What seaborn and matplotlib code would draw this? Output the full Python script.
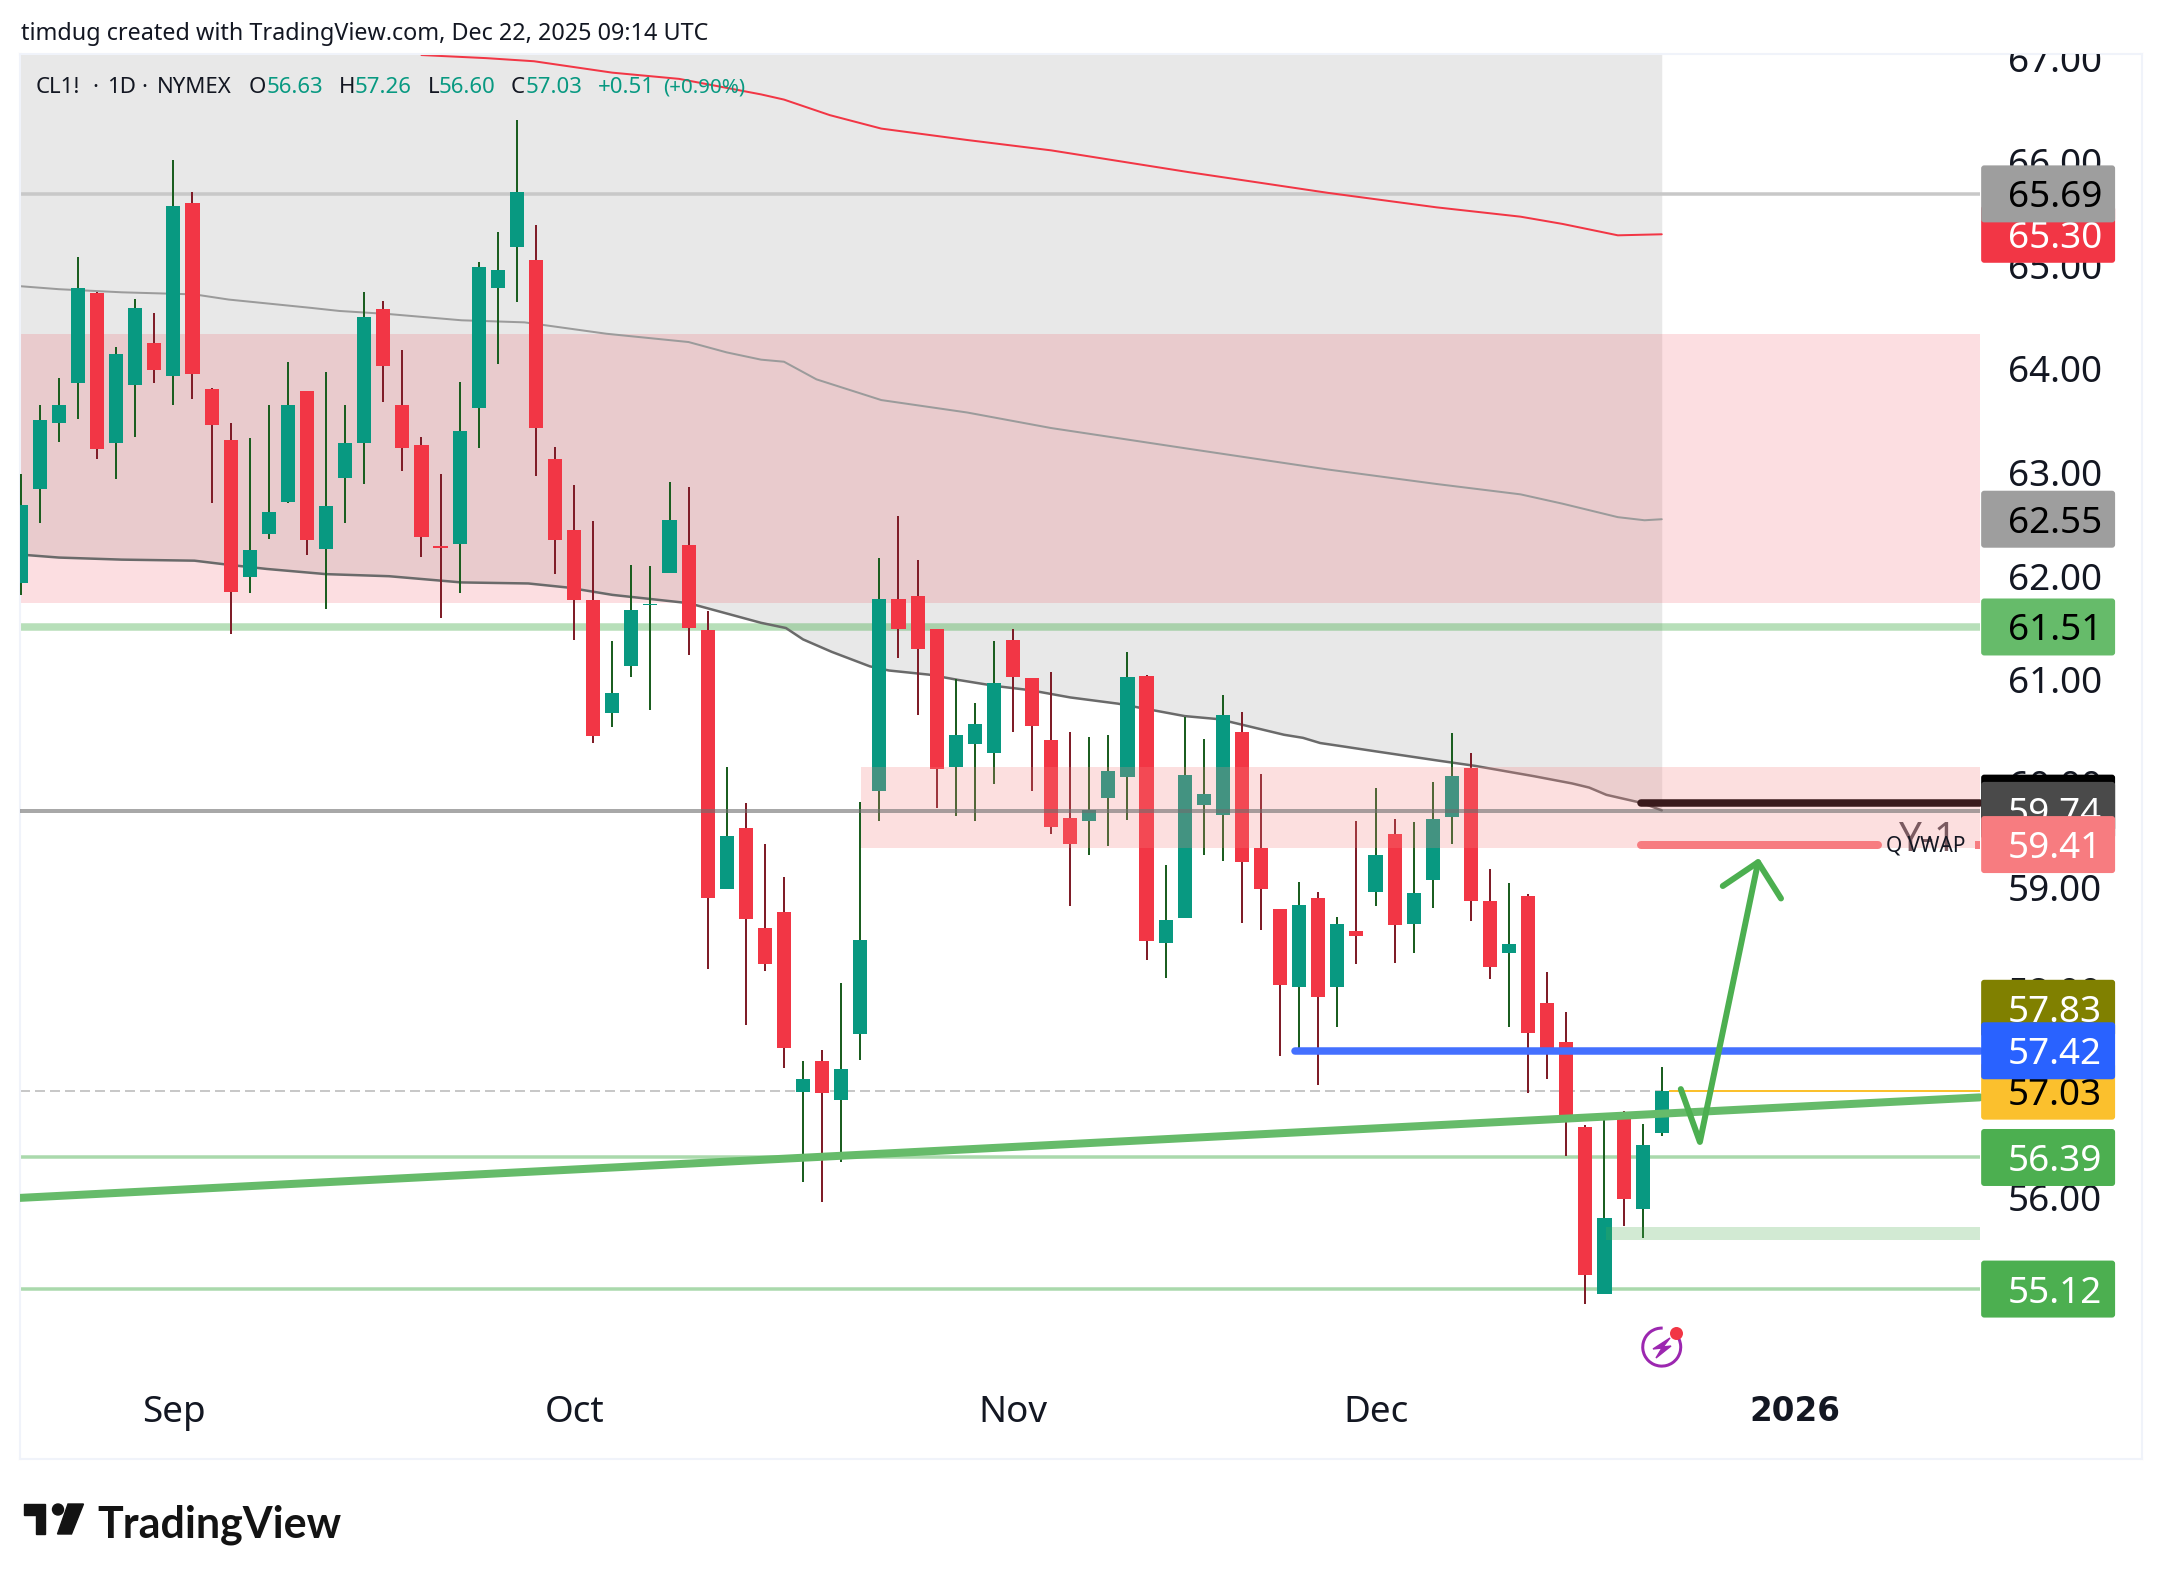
# cl1_daily_chart.py

import matplotlib
matplotlib.use("Agg")
import matplotlib.pyplot as plt
from matplotlib.patches import Polygon, Circle, FancyBboxPatch, Arc
import pandas as pd
import seaborn as sns

# ===============================
# Candles
# ===============================
opens = [61.93, 62.84, 63.48, 63.86, 64.73, 63.29, 63.85, 64.25, 63.93, 65.60,
         63.81, 63.31, 61.99, 62.41, 62.72, 63.79, 62.26, 62.95, 63.29, 64.58,
         63.65, 63.27, 62.29, 62.31, 63.62, 64.78, 65.18, 65.05, 63.13, 62.45,
         61.77, 60.68, 61.13, 61.72, 62.03, 62.30, 61.48, 58.98, 59.57, 58.60,
         58.76, 57.02, 57.32, 56.94, 57.58, 59.93, 61.78, 61.81, 61.49, 60.16,
         60.38, 60.29, 61.38, 61.02, 60.42, 59.67, 59.64, 59.86, 60.06, 61.04,
         58.46, 58.70, 59.79, 59.70, 60.50, 59.38, 58.79, 58.04, 58.89, 58.04,
         58.58, 58.95, 59.51, 58.64, 59.07, 59.68, 60.15, 58.87, 58.36, 58.91,
         57.88, 57.50, 56.68, 55.07, 56.77, 55.89, 56.63]
highs = [62.99, 63.65, 63.91, 65.08, 64.74, 64.21, 64.68, 64.54, 66.02, 65.71,
         63.82, 63.48, 63.33, 63.65, 64.07, 63.79, 63.97, 63.65, 64.74, 64.66,
         64.18, 63.34, 62.99, 63.87, 65.03, 65.32, 66.40, 65.39, 63.25, 62.88,
         62.53, 61.37, 62.11, 62.10, 62.91, 62.86, 61.66, 60.16, 59.81, 59.42,
         59.10, 57.32, 57.43, 58.07, 59.82, 62.18, 62.58, 62.16, 61.49, 61.01,
         60.78, 61.37, 61.49, 61.02, 61.08, 60.50, 60.45, 60.47, 61.27, 61.05,
         59.21, 60.64, 60.43, 60.85, 60.69, 60.09, 58.79, 59.05, 58.95, 58.71,
         59.64, 59.96, 59.66, 59.63, 60.01, 60.49, 60.29, 59.17, 59.04, 58.93,
         58.18, 57.79, 56.70, 56.79, 56.84, 56.71, 57.26]
lows = [61.82, 62.51, 63.30, 63.52, 63.13, 62.94, 63.34, 63.86, 63.65, 63.71,
        62.71, 61.44, 61.84, 62.36, 62.71, 62.20, 61.68, 62.51, 62.89, 63.68,
        63.02, 62.19, 61.60, 61.84, 63.24, 64.05, 64.65, 62.97, 62.02, 61.38,
        60.39, 60.54, 61.03, 60.71, 62.03, 61.24, 58.21, 58.98, 57.67, 58.19,
        57.25, 56.15, 55.96, 56.35, 57.33, 59.64, 61.21, 60.66, 59.76, 59.69,
        59.64, 59.99, 60.50, 59.93, 59.51, 58.82, 59.31, 59.40, 59.65, 58.30,
        58.12, 58.70, 59.31, 59.25, 58.65, 58.59, 57.37, 57.43, 57.09, 57.65,
        58.26, 58.82, 58.27, 58.36, 58.80, 59.42, 58.67, 58.11, 57.65, 57.01,
        57.15, 56.40, 54.98, 55.07, 55.73, 55.61, 56.60]
closes = [62.69, 63.51, 63.65, 64.78, 63.23, 64.14, 64.59, 63.99, 65.57, 63.95,
          63.46, 61.85, 62.25, 62.62, 63.65, 62.35, 62.68, 63.29, 64.50, 64.03,
          63.24, 62.38, 62.27, 63.40, 64.98, 64.96, 65.71, 63.43, 62.35, 61.77,
          60.46, 60.87, 61.67, 61.73, 62.54, 61.50, 58.89, 59.49, 58.69, 58.26,
          57.45, 57.15, 57.01, 57.24, 58.49, 61.78, 61.49, 61.30, 60.14, 60.47,
          60.57, 60.97, 61.03, 60.55, 59.58, 59.42, 59.74, 60.12, 61.03, 58.48,
          58.68, 60.08, 59.90, 60.66, 59.24, 58.98, 58.05, 58.83, 57.94, 58.64,
          58.53, 59.31, 58.63, 58.94, 59.66, 60.07, 58.87, 58.23, 58.45, 57.59,
          57.44, 56.80, 55.26, 55.81, 55.99, 56.51, 57.03]

# ===============================
# Band lines (bar number, price)
# ===============================
lower_bars = [-0.1, 2, 5.3, 9.1, 10.9, 12.9, 16, 19.3, 23.1, 26.6, 28.7, 31, 35,
              37, 38.8, 40.1, 41, 42.5, 44.5, 45.5, 47.6, 49.1, 51.1, 52.9, 55,
              57.5, 61, 62.8, 66.2, 67.2, 68.1, 69.2, 71, 74.3, 76.2, 79.3,
              81.3, 82.2, 83.1, 85, 86.0]
lower_band = [62.21, 62.18, 62.16, 62.15, 62.11, 62.07, 62.02, 62.00, 61.94, 61.93,
              61.89, 61.82, 61.74, 61.64, 61.55, 61.50, 61.39, 61.27, 61.13, 61.09,
              61.05, 61.00, 60.94, 60.90, 60.83, 60.77, 60.65, 60.62, 60.47, 60.44,
              60.39, 60.36, 60.31, 60.22, 60.17, 60.07, 60.00, 59.96, 59.89, 59.81,
              59.74]
upper_bars = [-0.1, 2, 5.3, 9.1, 10.9, 15.2, 16.7, 19.3, 23.1, 26.4, 30.7, 35, 37,
              38.8, 40, 41.7, 45.1, 49.6, 54, 61.2, 68.5, 74.2, 78.6, 80.8, 83.7,
              85.1, 86.0]
upper_band = [64.80, 64.77, 64.74, 64.72, 64.67, 64.59, 64.56, 64.53, 64.47, 64.45,
              64.34, 64.26, 64.16, 64.09, 64.07, 63.90, 63.70, 63.58, 63.43, 63.23,
              63.03, 62.89, 62.79, 62.70, 62.57, 62.54, 62.55]
red_bars = [21, 24.4, 26.9, 31, 34.5, 38.8, 40, 42.4, 45.1, 49.6, 54, 61.2, 68.5,
            74.2, 78.6, 80.8, 83.7, 86.0]
red_band = [67.03, 67.00, 66.97, 66.86, 66.80, 66.65, 66.60, 66.45, 66.32, 66.21,
            66.11, 65.90, 65.70, 65.56, 65.47, 65.40, 65.29, 65.30]

# drawn arrow
arrow_bars = [87.0, 88.0, 91.05]
arrow_prices = [57.05, 56.54, 59.24]
head_bars = [89.2, 91.05, 92.25]
head_prices = [59.01, 59.24, 58.89]

# right hand scale
tick_prices = [67, 66, 65, 64, 63, 62, 61, 60, 59, 58, 57, 56]
# drawn in this order, later boxes cover earlier ones
box_prices = [65.30, 65.69, 62.55, 61.51, 59.81, 59.74, 59.41, 57.83, 57.03, 57.42, 56.39, 55.12]
box_texts = ["65.30", "65.69", "62.55", "61.51", "", "59.74", "59.41", "57.83", "57.03", "57.42", "56.39", "55.12"]
box_colors = ["#F23645", "#9E9E9E", "#9E9E9E", "#66BB6A", "#000000", "#4A4A4A", "#F77C80",
              "#808000", "#FBC02D", "#2962FF", "#4CAF50", "#4CAF50"]
box_text_colors = ["white", "black", "black", "black", "white", "white", "white",
                   "white", "black", "white", "white", "white"]

month_bars = [8, 29, 52, 71, 93]
month_labels = ["Sep", "Oct", "Nov", "Dec", "2026"]

df = pd.DataFrame({"open": opens, "high": highs, "low": lows, "close": closes})
df["bar"] = df.index
df["up"] = df["close"] >= df["open"]

sns.set_theme(style="white")
plt.rcParams["font.family"] = ["Noto Sans", "DejaVu Sans"]

W, H = 2164, 1580
PX = 0.72  # pixels to points at dpi 100
fig = plt.figure(figsize=(W / 100, H / 100), dpi=100, facecolor="white")

# page layer, works in plain pixels
page = fig.add_axes([0, 0, 1, 1])
page.set_xlim(0, W)
page.set_ylim(H, 0)
page.axis("off")

# chart layer
ax = fig.add_axes([20 / W, 1 - 1459 / H, (2142 - 20) / W, (1459 - 54) / H])
ax.set_facecolor("white")
ax.patch.set_alpha(0)
BAR_LEFT, BAR_PANE, BAR_RIGHT = -0.04, 102.66, 111.17
TOP, BOTTOM = 67.04, 53.48
ax.set_xlim(BAR_LEFT, BAR_RIGHT)
ax.set_ylim(BOTTOM, TOP)
for s in ax.spines.values():
    s.set_color("#F0F3FA")
    s.set_linewidth(1.5)

# ===============================
# Zones behind the candles
# ===============================
ax.fill_between(lower_bars, lower_band, TOP, color="#E8E8E8", lw=0, zorder=1)
ax.fill_between([BAR_LEFT, BAR_PANE], 61.74, 64.34, color="#F23645", alpha=0.16, lw=0, zorder=1.1)
ax.hlines(65.69, BAR_LEFT, BAR_PANE, color="#C8C8C8", lw=3.5 * PX, zorder=1.5)
ax.hlines(61.51, BAR_LEFT, BAR_PANE, color="#4CAF50", alpha=0.4, lw=7.5 * PX, zorder=1.5)
ax.hlines([56.39, 55.12], BAR_LEFT, BAR_PANE, color="#4CAF50", alpha=0.47, lw=3.5 * PX, zorder=1.5)
ax.hlines(57.03, BAR_LEFT, 86, color="#C8C8C8", lw=2 * PX, linestyles=(0, (5, 2.5)), zorder=1.5)

# bands
sns.lineplot(x=red_bars, y=red_band, ax=ax, color="#F23645", linewidth=2 * PX, zorder=2, estimator=None, sort=False)
sns.lineplot(x=upper_bars, y=upper_band, ax=ax, color="#9B9B9B", linewidth=2 * PX, zorder=2, estimator=None, sort=False)
sns.lineplot(x=lower_bars, y=lower_band, ax=ax, color="#6A6A6A", linewidth=2.5 * PX, zorder=2, estimator=None, sort=False)

# ===============================
# Candles
# ===============================
wick_colors = df["up"].map({True: "#1B5E20", False: "#7F1D28"})
body_colors = df["up"].map({True: "#089981", False: "#F23645"})
ax.vlines(df["bar"], df["low"], df["high"], colors=wick_colors, lw=2 * PX, zorder=3)
ax.bar(df["bar"], (df["close"] - df["open"]).abs(), bottom=df[["open", "close"]].min(axis=1),
       width=0.74, color=body_colors, linewidth=0, zorder=3.1)

# ===============================
# Things over the candles
# ===============================
ax.fill_between([44.04, BAR_PANE], 59.38, 60.16, color="#F78383", alpha=0.25, lw=0, zorder=4)
ax.fill_between([83.1, BAR_PANE], 55.59, 55.72, color="#4CAF50", alpha=0.25, lw=0, zorder=4)
ax.hlines(59.73, BAR_LEFT, BAR_PANE, color="#6E6E6E", alpha=0.6, lw=4 * PX, zorder=4.1)
ax.hlines(57.03, 86.4, BAR_PANE, color="#FBC02D", lw=2 * PX, zorder=4.1)
ax.plot([66.8, BAR_PANE], [57.42, 57.42], color="#4470FF", lw=7.5 * PX, solid_capstyle="round", zorder=4.2)
ax.plot([84.9, BAR_PANE], [59.81, 59.81], color="#3A1A1C", lw=7.5 * PX, solid_capstyle="round", zorder=4.2)
ax.plot([84.9, 97.35], [59.41, 59.41], color="#F77C80", lw=8 * PX, solid_capstyle="round", zorder=4.2)
ax.plot([102.4, BAR_PANE], [59.41, 59.41], color="#F77C80", lw=8 * PX, solid_capstyle="butt", zorder=4.2)
ax.plot([BAR_LEFT, BAR_PANE], [56.00, 56.97], color="#66BB6A", lw=8 * PX, zorder=4.3)
ax.plot(arrow_bars, arrow_prices, color="#4CAF50", lw=6 * PX, solid_capstyle="round", solid_joinstyle="round", zorder=4.4)
ax.plot(head_bars, head_prices, color="#4CAF50", lw=6 * PX, solid_capstyle="round", solid_joinstyle="round", zorder=4.4)

ax.text(100.0, 59.49, "Y-1", fontsize=29, color="#7A5A60", ha="center", va="center_baseline", zorder=4.5)
ax.text(99.85, 59.42, "Q VWAP", fontsize=15, color="#131722", ha="center", va="center_baseline", zorder=4.6)

# ===============================
# Price scale
# ===============================
SCALE_MID = 106.62
for p in tick_prices:
    ax.text(SCALE_MID, p, f"{p:.2f}", fontsize=26.5, color="#131722", ha="center", va="center_baseline",
            clip_on=True, zorder=5)
for p, label, c, tc in zip(box_prices, box_texts, box_colors, box_text_colors):
    box = FancyBboxPatch((102.74, p - 0.275), 7.02, 0.55, boxstyle="round,pad=0,rounding_size=0.16",
                         mutation_aspect=0.184, facecolor=c, edgecolor="none", zorder=6)
    ax.add_patch(box)
    t = ax.text(SCALE_MID, p, label, fontsize=26.5, color=tc, ha="center", va="center_baseline", zorder=6, clip_on=True)
    t.set_clip_path(box)

# month labels are real ticks, pulled inside the pane
ax.set_xticks(month_bars, month_labels)
ax.set_yticks([])
ax.tick_params(axis="x", length=0, pad=-46, labelsize=26.5, labelcolor="#131722")
year_label = ax.get_xticklabels()[-1]
year_label.set_fontfamily("DejaVu Sans")
year_label.set_fontweight("bold")
year_label.set_fontsize(23.5)

# marker under the last bar
ax.add_patch(Arc((86.0, 54.56), 1.99, 0.367, theta1=75, theta2=370, color="#9C27B0", lw=3 * PX, zorder=5))
ax.plot([86.74], [54.70], marker="o", ms=13 * PX, color="#F23645", mew=0, zorder=5.5)
page.add_patch(Polygon([(1670, 1338), (1653, 1349), (1662, 1348), (1656, 1358), (1671, 1346), (1663, 1347)],
                       closed=True, color="#9C27B0", zorder=1))

# ===============================
# Header and logo
# ===============================
page.text(21, 31, "timdug created with TradingView.com, Dec 22, 2025 09:14 UTC", fontsize=16.8,
          color="#131722", va="center_baseline", ha="left")

legend_parts = [(36, "CL1!", "#131722", 16), (92, "·", "#131722", 16), (107, "1D", "#131722", 16),
                (141, "·", "#131722", 16), (157, "NYMEX", "#131722", 16),
                (249, "O", "#131722", 16), (267, "56.63", "#089981", 16),
                (339, "H", "#131722", 16), (355, "57.26", "#089981", 16),
                (428, "L", "#131722", 16), (439, "56.60", "#089981", 16),
                (511, "C", "#131722", 16), (526, "57.03", "#089981", 16),
                (598, "+0.51", "#089981", 16), (663, "(+0.90%)", "#089981", 14.8)]
for x, label, c, size in legend_parts:
    ax.annotate(label, xy=(x / W, 1 - 85 / H), xycoords="figure fraction", fontsize=size, color=c,
                va="center_baseline", ha="left", zorder=7)

page.add_patch(Polygon([(24, 1504), (45, 1504), (45, 1534), (36, 1534), (36, 1515), (24, 1515)], closed=True, color="#131313"))
page.add_patch(Circle((58, 1509.5), 5.5, color="#131313"))
page.add_patch(Polygon([(68, 1504), (83.5, 1504), (71.5, 1534), (57.5, 1534)], closed=True, color="#131313"))
page.text(97, 1521, "TradingView", fontsize=31, fontfamily="Lato", fontweight="bold", color="#131313",
          va="center_baseline", ha="left")

fig.savefig("out.png", dpi=100)
